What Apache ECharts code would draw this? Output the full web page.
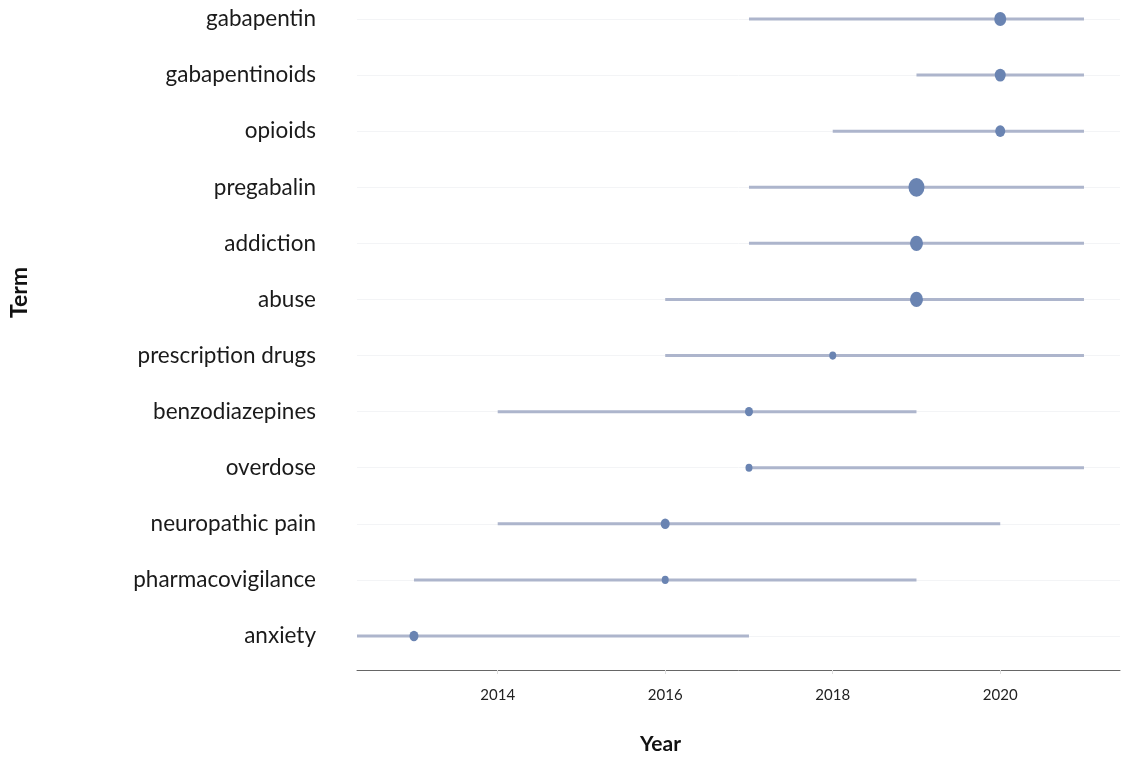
<!DOCTYPE html>
<html><head><meta charset="utf-8">
<script src="https://cdn.jsdelivr.net/npm/echarts@6/dist/echarts.min.js"></script>
<style>html,body{margin:0;padding:0;background:#fff}#c{width:1121px;height:760px}</style>
</head><body><div id="c"></div>
<script>
// bottom to top
const terms = ['anxiety','pharmacovigilance','neuropathic pain','overdose','benzodiazepines','prescription drugs','abuse','addiction','pregabalin','opioids','gabapentinoids','gabapentin'];
const yearStart = [2012, 2013, 2014, 2017, 2014, 2016, 2016, 2017, 2017, 2018, 2019, 2017];
const yearEnd   = [2017, 2019, 2020, 2021, 2019, 2021, 2021, 2021, 2021, 2021, 2021, 2021];
const yearPeak  = [2013, 2016, 2016, 2017, 2017, 2018, 2019, 2019, 2019, 2020, 2020, 2020];
const freq      = [9, 7, 9, 7, 8, 7, 13, 13, 16, 10, 11, 12];
const xTicks = [2014, 2016, 2018, 2020];

const chart = echarts.init(document.getElementById('c'));
const font = 'Lato, "Open Sans", sans-serif';
chart.setOption({
  animation: false,
  grid: {left: 357, right: 1, top: 19, bottom: 124, containLabel: false, outerBoundsMode: 'none'},
  xAxis: {
    type: 'value', min: 2012.32, max: 2021.43,
    offset: 34,
    name: 'Year', nameLocation: 'middle', nameGap: 64,
    nameTextStyle: {fontFamily: font, fontWeight: 'bold', fontSize: 21, color: '#111', padding: [0, 156, 0, 0]},
    axisLine: {show: true, lineStyle: {color: '#666', width: 1}},
    axisTick: {show: true, length: 4, lineStyle: {color: '#ddd'}, customValues: xTicks},
    axisLabel: {customValues: xTicks, formatter: v => String(v), fontFamily: font, fontSize: 15, color: '#222', margin: 18},
    splitLine: {show: false}
  },
  yAxis: {
    type: 'category', data: terms, boundaryGap: false,
    name: 'Term', nameLocation: 'middle', nameGap: 326, nameRotate: 90,
    nameTextStyle: {fontFamily: font, fontWeight: 'bold', fontSize: 23, color: '#111', padding: [0, 0, 0, 70]},
    axisLine: {show: false}, axisTick: {show: false},
    axisLabel: {fontFamily: font, fontSize: 22.5, color: '#1a1a1a', margin: 41},
    splitLine: {show: true, lineStyle: {color: '#f3f4f6', width: 1}}
  },
  series: [
    {
      type: 'custom',
      data: terms.map((t, i) => [i, yearStart[i], yearEnd[i]]),
      encode: {x: [1, 2], y: 0},
      renderItem: function (params, api) {
        const y = api.value(0);
        const p1 = api.coord([api.value(1), y]);
        const p2 = api.coord([api.value(2), y]);
        const cs = params.coordSys;
        const x1 = Math.max(p1[0], cs.x), x2 = Math.min(p2[0], cs.x + cs.width);
        return {type: 'line', shape: {x1: x1, y1: p1[1], x2: x2, y2: p2[1]},
          style: {stroke: '#adb5cc', lineWidth: 3}};
      },
      z: 2
    },
    {
      type: 'scatter',
      data: terms.map((t, i) => [yearPeak[i], i, freq[i]]),
      symbolSize: function (v) { return [v[2], v[2] * 1.17]; },
      itemStyle: {color: '#6a84b2', opacity: 1},
      z: 3
    }
  ]
});
</script></body></html>
